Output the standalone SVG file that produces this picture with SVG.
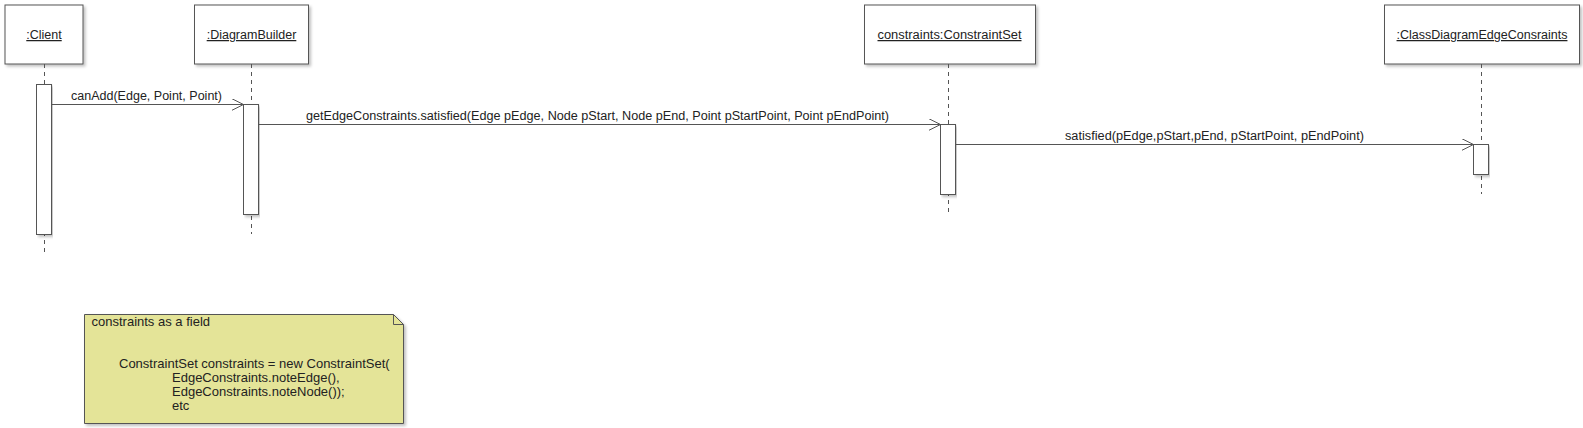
<svg xmlns="http://www.w3.org/2000/svg" width="1583" height="428" viewBox="0 0 1583 428">
<defs>
<filter id="sh" x="-5%" y="-5%" width="115%" height="125%">
<feGaussianBlur in="SourceAlpha" stdDeviation="1.5"/>
<feOffset dx="2" dy="2" result="b"/>
<feComponentTransfer><feFuncA type="linear" slope="0.25"/></feComponentTransfer>
<feMerge><feMergeNode/><feMergeNode in="SourceGraphic"/></feMerge>
</filter>
<marker id="arr" markerWidth="14" markerHeight="12" refX="12" refY="6" orient="auto" markerUnits="userSpaceOnUse">
<path d="M0,0 L12,6 L0,12" fill="none" stroke="#555" stroke-width="1"/>
</marker>
</defs>
<style>
text{font-family:"Liberation Sans",Arial,sans-serif;font-size:12.5px;fill:#222}
.box{fill:#fff;stroke:#555;stroke-width:1}
.life{stroke:#555;stroke-width:1;stroke-dasharray:4,4;fill:none}
.act{fill:#fff;stroke:#555;stroke-width:1}
.msg{stroke:#555;stroke-width:1;fill:none;marker-end:url(#arr)}
.u{text-decoration:underline}
.note{fill:#e4e498;stroke:#555;stroke-width:1}
.nt{font-size:13px}
</style>
<rect width="1583" height="428" fill="#fff"/>
<g id="client">
<rect class="box" x="5" y="5" width="78" height="59" filter="url(#sh)"/>
<text class="u" x="44" y="39" text-anchor="middle">:Client</text>
<line class="life" x1="44.5" y1="64" x2="44.5" y2="254"/>
<rect class="act" x="36.5" y="84.5" width="15" height="150" filter="url(#sh)"/>
</g>
<g id="diagrambuilder">
<rect class="box" x="194.5" y="5" width="114" height="59" filter="url(#sh)"/>
<text class="u" x="251.5" y="39" text-anchor="middle">:DiagramBuilder</text>
<line class="life" x1="251.5" y1="64" x2="251.5" y2="234"/>
<rect class="act" x="243.5" y="104.5" width="15" height="110" filter="url(#sh)"/>
</g>
<g id="constraintset">
<rect class="box" x="864.5" y="5" width="171" height="59" filter="url(#sh)"/>
<text class="u" x="949.5" y="39" text-anchor="middle" textLength="144" lengthAdjust="spacingAndGlyphs">constraints:ConstraintSet</text>
<line class="life" x1="948.5" y1="64" x2="948.5" y2="212"/>
<rect class="act" x="940.5" y="124.5" width="15" height="70" filter="url(#sh)"/>
</g>
<g id="classdiagramedgeconstraints">
<rect class="box" x="1384.5" y="5" width="195" height="59" filter="url(#sh)"/>
<text class="u" x="1482" y="39" text-anchor="middle">:ClassDiagramEdgeConsraints</text>
<line class="life" x1="1481.5" y1="64" x2="1481.5" y2="194"/>
<rect class="act" x="1473.5" y="144.5" width="15" height="30" filter="url(#sh)"/>
</g>
<g id="connectors">
<line class="msg" x1="51.5" y1="104.5" x2="243.5" y2="104.5"/>
<text x="71" y="100" textLength="151" lengthAdjust="spacingAndGlyphs">canAdd(Edge, Point, Point)</text>
<line class="msg" x1="258.5" y1="124.5" x2="940.5" y2="124.5"/>
<text x="306" y="120" textLength="583" lengthAdjust="spacingAndGlyphs">getEdgeConstraints.satisfied(Edge pEdge, Node pStart, Node pEnd, Point pStartPoint, Point pEndPoint)</text>
<line class="msg" x1="955.5" y1="144.5" x2="1473.5" y2="144.5"/>
<text x="1065" y="140" textLength="299" lengthAdjust="spacingAndGlyphs">satisfied(pEdge,pStart,pEnd, pStartPoint, pEndPoint)</text>
</g>
<g id="note">
<path class="note" d="M84.5,314.5 H393.5 L403.5,324.5 V423.5 H84.5 Z" filter="url(#sh)"/>
<path d="M393.5,314.5 V324.5 H403.5" fill="none" stroke="#555" stroke-width="1"/>
<text class="nt" x="91.5" y="326">constraints as a field</text>
<text class="nt" x="119" y="368">ConstraintSet constraints = new ConstraintSet(</text>
<text class="nt" x="172" y="382">EdgeConstraints.noteEdge(),</text>
<text class="nt" x="172" y="396">EdgeConstraints.noteNode());</text>
<text class="nt" x="172" y="410">etc</text>
</g>
</svg>
